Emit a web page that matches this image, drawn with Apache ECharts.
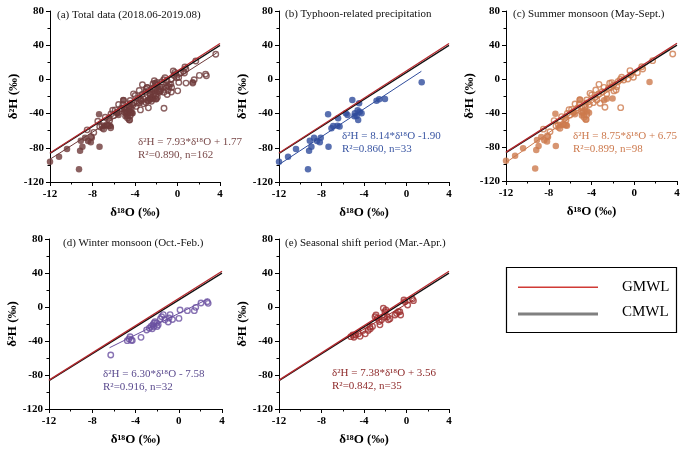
<!DOCTYPE html>
<html><head><meta charset="utf-8">
<script src="https://cdn.jsdelivr.net/npm/echarts@6/dist/echarts.min.js"></script>
<style>html,body{margin:0;padding:0;background:#fff}#c{width:697px;height:454px}</style>
</head><body><div id="c"></div>
<script>
// ---------------- DATA ----------------
// Typhoon-related precipitation (filled markers), δ18O, δ2H
const typhoon = [[-12.0,-96.3],[-11.15,-90.4],[-10.4,-81.4],[-9.27,-105.2],[-9.17,-83.4],[-9.1,-71.7],[-8.95,-78.7],[-8.7,-68.2],[-8.42,-72.0],[-8.16,-73.6],[-8.07,-68.2],[-7.34,-78.7],[-7.38,-40.9],[-7.06,-57.2],[-6.9,-54.5],[-6.5,-54.1],[-6.3,-55.0],[-6.44,-45.5],[-5.71,-39.7],[-5.55,-41.6],[-5.1,-24.1],[-4.86,-39.7],[-4.7,-42.8],[-4.55,-47.5],[-4.46,-28.0],[-4.4,-37.8],[-4.23,-39.7],[-4.6,-36.0],[-4.9,-43.0],[-2.82,-24.9],[-2.57,-23.3],[-2.03,-22.9],[1.43,-3.4]];
// Summer monsoon, non-typhoon (hollow markers)
const summerOther = [[3.6,29.4],[1.72,21.6],[0.79,11.8],[0.7,14.5],[0.29,7.5],[-0.08,2.0],[-0.4,9.8],[-1.18,2.0],[-1.27,-33.7],[-1.64,-9.0],[-1.7,-12.9],[-1.5,-3.0],[-1.96,-7.0],[-2.1,-4.3],[-2.42,-11.0],[-2.58,-17.6],[-2.74,-33.3],[-2.83,-9.8],[-3.3,-6.3],[-3.33,-17.6],[-3.83,-27.8],[-3.67,-21.6],[-3.98,-18.8],[-4.45,-24.7],[-4.6,-32.5],[-4.76,-38.4],[-4.45,-42.4],[-4.7,-45.0],[-4.5,-47.5],[-4.14,-16.9],[-3.5,-24.7],[-3.2,-28.6],[-5.08,-24.7],[-5.14,-29.4],[-4.92,-33.3],[-5.54,-29.4],[-5.7,-38.4],[-6.0,-42.4],[-5.86,-35.7],[-6.26,-40.4],[-6.39,-48.2],[-6.8,-44.3],[-6.95,-50.2],[-7.1,-54.1],[-7.32,-55.3],[-6.63,-52.9],[-6.39,-54.1],[-6.95,-58.0],[-7.5,-49.0],[-7.88,-62.0],[-8.13,-67.0],[-8.5,-59.0],[-0.33,4.7],[-0.99,-1.2],[-1.3,-0.4],[-3.0,-15.0],[-2.2,-10.0],[-1.9,-14.0],[-3.6,-13.0],[-5.3,-34.0],[-4.2,-30.0],[-6.1,-36.0],[-5.0,-38.0],[-2.3,-5.0],[-0.6,0.0]];
// Winter monsoon (hollow markers)
const winter = [[-6.29,-56.5],[-4.76,-39.6],[-4.6,-37.6],[-4.5,-35.0],[-4.4,-39.0],[-4.3,-39.4],[-3.49,-35.7],[-2.97,-27.0],[-2.72,-25.0],[-2.57,-23.0],[-2.45,-25.5],[-2.4,-21.0],[-2.3,-19.0],[-2.2,-17.3],[-2.3,-23.0],[-2.05,-19.0],[-2.0,-23.0],[-1.9,-21.0],[-1.58,-11.4],[-1.43,-9.0],[-1.7,-14.0],[-1.28,-15.0],[-0.97,-17.6],[-0.9,-13.0],[-0.8,-9.0],[-0.58,-14.7],[0.02,-13.4],[0.12,-3.5],[0.8,-4.3],[1.44,-4.3],[1.57,-0.4],[2.06,4.7],[2.64,6.2],[2.72,4.3]];
// Seasonal shift period (hollow markers)
const shift = [[-5.24,-34.9],[-5.05,-33.0],[-4.95,-35.6],[-4.8,-33.0],[-4.52,-31.6],[-4.37,-34.5],[-4.1,-27.5],[-3.88,-31.6],[-3.6,-27.5],[-3.45,-23.6],[-3.4,-25.5],[-3.2,-22.8],[-2.96,-11.4],[-2.87,-9.4],[-2.75,-13.3],[-2.56,-17.0],[-2.5,-21.0],[-2.35,-15.0],[-2.18,-1.5],[-2.03,-5.5],[-1.94,-3.5],[-2.1,-12.0],[-1.8,-11.5],[-1.7,-15.0],[-1.56,-13.7],[-1.08,-9.4],[-0.93,-7.5],[-0.77,-5.5],[-0.63,-5.5],[-0.55,-9.4],[-0.24,8.2],[-0.14,6.3],[0.11,2.35],[0.55,9.4],[0.65,7.5]];

// meteoric water lines [slope, intercept]
const gmwl = [8, 10];
const cmwl = [7.9, 8.2];
// regression fits [slope, intercept, xFrom, xTo]
const fitA = [7.93, 1.77, -12, 3.7];
const fitB = [8.14, -1.90, -12, 1.4];
const fitC = [8.75, 6.75, -12, 3.7];
const fitD = [6.30, -7.58, -6.4, 2.7];
const fitE = [7.38, 3.56, -5.2, 0.7];

const titles = ['(a) Total data (2018.06-2019.08)','(b) Typhoon-related precipitation','(c) Summer monsoon (May-Sept.)','(d) Winter monsoon (Oct.-Feb.)','(e) Seasonal shift period (Mar.-Apr.)'];
const eqs = ['δ²H = 7.93*δ¹⁸O + 1.77','δ²H = 8.14*δ¹⁸O -1.90','δ²H = 8.75*δ¹⁸O + 6.75','δ²H = 6.30*δ¹⁸O - 7.58','δ²H = 7.38*δ¹⁸O + 3.56'];
const stats = ['R²=0.890, n=162','R²=0.860, n=33','R²=0.899, n=98','R²=0.916, n=32','R²=0.842, n=35'];

// ---------------- LAYOUT / STYLE ----------------
const FONT = '"Liberation Serif","Times New Roman",serif';
const grids = [
  {left:50, top:11, width:170, height:171},
  {left:279, top:11, width:170, height:171},
  {left:506, top:11, width:171, height:170},
  {left:49, top:239, width:173, height:170},
  {left:279, top:239, width:170, height:170}
];
const colors = ['#6e3a3a','#2f4c9c','#cd7a4e','#6a50a0','#9c2c2c'];
const textColors = ['#7a4a4a','#3a56a3','#cd7a4e','#5a4a8e','#8e2a2a'];
const fits = [fitA, fitB, fitC, fitD, fitE];
const panelPoints = [
  [[typhoon,true],[summerOther,false],[winter,false],[shift,false]],
  [[typhoon,true]],
  [[typhoon,true],[summerOther,false]],
  [[winter,false]],
  [[shift,false]]
];
const titlePos = [[57,17],[285,16],[513,16],[63,245],[285,245]];
const eqPos = [[138,143],[342,137],[573,137],[103,375],[332,374]];

const line = (c, x0, x1) => [[x0, c[0]*x0 + c[1]], [x1, c[0]*x1 + c[1]]];

const xAxes = [], yAxes = [], series = [], graphic = [];
grids.forEach((g, i) => {
  xAxes.push({
    type:'value', gridIndex:i, min:-12, max:4, interval:4,
    axisLine:{show:true, onZero:false, lineStyle:{color:'#000', width:1}},
    axisTick:{show:true, length:4, lineStyle:{color:'#000'}},
    minorTick:{show:true, splitNumber:2, length:2.5, lineStyle:{color:'#000'}},
    splitLine:{show:false},
    axisLabel:{color:'#000', fontFamily:FONT, fontWeight:'bold', fontSize:11, margin:7},
    name:'δ¹⁸O (‰)', nameLocation:'middle', nameGap:24,
    nameTextStyle:{fontFamily:FONT, fontWeight:'bold', fontSize:13, color:'#000'}
  });
  yAxes.push({
    type:'value', gridIndex:i, min:-120, max:80, interval:40,
    axisLine:{show:true, onZero:false, lineStyle:{color:'#000', width:1}},
    axisTick:{show:true, length:4, lineStyle:{color:'#000'}},
    minorTick:{show:true, splitNumber:2, length:2.5, lineStyle:{color:'#000'}},
    splitLine:{show:false},
    axisLabel:{color:'#000', fontFamily:FONT, fontWeight:'bold', fontSize:11, margin:6},
    name:'δ²H (‰)', nameLocation:'middle', nameGap:22, nameRotate:90,
    nameTextStyle:{fontFamily:FONT, fontWeight:'bold', fontSize:13, color:'#000'}
  });
  panelPoints[i].forEach(([pts, filled]) => {
    series.push({
      type:'scatter', xAxisIndex:i, yAxisIndex:i, data:pts, symbol:'circle',
      symbolSize: filled ? 6.5 : 5.5, z:2, silent:true,
      itemStyle: filled ? {color:colors[i]} : {color:'rgba(255,255,255,0)', borderColor:colors[i], borderWidth:1.4}
    });
  });
  const f = fits[i];
  series.push({type:'line', xAxisIndex:i, yAxisIndex:i, data:line(f, f[2], f[3]), symbol:'none', z:3,
    lineStyle:{color:colors[i], width:1}, silent:true});
  series.push({type:'line', xAxisIndex:i, yAxisIndex:i, data:line(cmwl, -12, 4), symbol:'none', z:4,
    lineStyle:{color:'#111', width:1.3}, silent:true});
  series.push({type:'line', xAxisIndex:i, yAxisIndex:i, data:line(gmwl, -12, 4), symbol:'none', z:5,
    lineStyle:{color:'#b3282d', width:1.3}, silent:true});
  graphic.push({type:'text', left:titlePos[i][0], top:titlePos[i][1]-7,
    style:{text:titles[i], fill:'#111', font:'11px '+FONT}});
  graphic.push({type:'text', left:eqPos[i][0], top:eqPos[i][1]-7,
    style:{text:eqs[i] + '\n' + stats[i], fill:textColors[i], font:'11px '+FONT, lineHeight:13}});
});

// legend box
graphic.push({type:'rect', z:10, shape:{x:506.5, y:267.5, width:170, height:65}, style:{fill:'#fff', stroke:'#000', lineWidth:1.2}});
graphic.push({type:'rect', z:11, shape:{x:518, y:286.5, width:80, height:1.5}, style:{fill:'#d03a35'}});
graphic.push({type:'rect', z:11, shape:{x:518, y:312.5, width:80, height:3}, style:{fill:'#808080'}});
graphic.push({type:'text', z:11, left:622, top:280, style:{text:'GMWL', fill:'#000', font:'15px '+FONT}});
graphic.push({type:'text', z:11, left:622, top:305, style:{text:'CMWL', fill:'#000', font:'15px '+FONT}});

const chart = echarts.init(document.getElementById('c'), null, {renderer:'canvas'});
chart.setOption({
  animation:false, backgroundColor:'#fff',
  grid: grids.map(g => Object.assign({containLabel:false}, g)),
  xAxis:xAxes, yAxis:yAxes, series:series, graphic:graphic
});
</script></body></html>
